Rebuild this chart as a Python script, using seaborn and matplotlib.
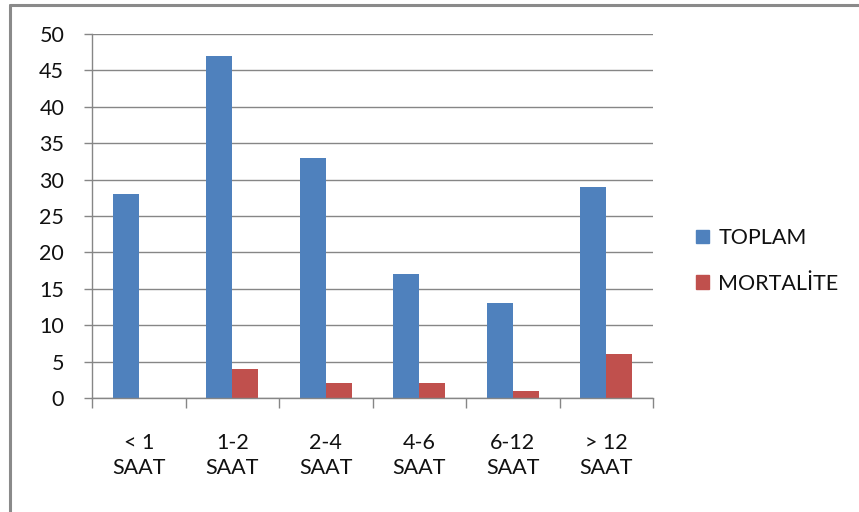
import matplotlib
matplotlib.use("Agg")
import matplotlib.pyplot as plt
import seaborn as sns
import pandas as pd
from matplotlib.patches import Rectangle
from matplotlib.lines import Line2D

# Data
categories = ["< 1\nSAAT", "1-2\nSAAT", "2-4\nSAAT", "4-6\nSAAT", "6-12\nSAAT", "> 12\nSAAT"]
toplam = [28, 47, 33, 17, 13, 29]
mortalite = [0, 4, 2, 2, 1, 6]
series_names = ["TOPLAM", "MORTALİTE"]
y_ticks = [0, 5, 10, 15, 20, 25, 30, 35, 40, 45, 50]

df = pd.DataFrame({
    "kategori": categories * 2,
    "seri": [series_names[0]] * len(categories) + [series_names[1]] * len(categories),
    "deger": toplam + mortalite,
})

sns.set_theme(style="white")
plt.rcParams["font.family"] = ["Lato", "DejaVu Sans"]

W, H = 859, 512
fig = plt.figure(figsize=(W / 100, H / 100), dpi=100)
fig.patch.set_facecolor("white")

# Outer chart frame (top and left edges visible)
fig.add_artist(Line2D([10 / W, 10 / W], [0, 1 - 5 / H], color="#8a8a8a", lw=2.2,
                      transform=fig.transFigure))
fig.add_artist(Line2D([10 / W, 1], [1 - 5 / H, 1 - 5 / H], color="#8a8a8a", lw=2.2,
                      transform=fig.transFigure))

x0, x1 = 92, 653
y0, y1 = 398, 34
ax = fig.add_axes([x0 / W, 1 - y0 / H, (x1 - x0) / W, (y0 - y1) / H])

palette = {series_names[0]: "#4F81BD", series_names[1]: "#C0504D"}
sns.barplot(data=df, x="kategori", y="deger", hue="seri", palette=palette,
            width=0.56, gap=0, dodge=True, saturation=1, ax=ax, legend=False,
            edgecolor="none", linewidth=0)

ax.set_ylim(0, 50)
ax.set_xlim(-0.5, len(categories) - 0.5)
ax.set_yticks(y_ticks)
ax.set_xlabel("")
ax.set_ylabel("")

grid_c = "#868686"
for v in y_ticks:
    ax.axhline(v, color=grid_c, lw=1.0, zorder=0)
ax.set_axisbelow(True)

for s in ["top", "right"]:
    ax.spines[s].set_visible(False)
ax.spines["left"].set_color(grid_c)
ax.spines["bottom"].set_color(grid_c)
ax.spines["left"].set_linewidth(1.0)
ax.spines["bottom"].set_linewidth(1.0)

fs = 15.5
ax.tick_params(axis="y", which="both", left=True, length=6, width=1.0, color=grid_c,
               labelsize=fs, labelcolor="#111111", pad=14)
# x tick marks sit at category boundaries; labels at category centres
ax.set_xticks([i for i in range(len(categories))])
ax.set_xticklabels(categories, fontsize=fs, color="#111111", linespacing=1.3)
ax.tick_params(axis="x", which="major", bottom=False, pad=19)
ax.set_xticks([i - 0.5 for i in range(len(categories) + 1)], minor=True)
ax.tick_params(axis="x", which="minor", bottom=True, length=7, width=1.0, color=grid_c)

# Legend
handles = [Rectangle((0, 0), 1, 1, color=palette[n]) for n in series_names]
fig.legend(handles, series_names, loc="center left",
           bbox_to_anchor=(687 / W, 1 - 261 / H), frameon=False, fontsize=fs,
           handlelength=0.6, handleheight=0.6, handletextpad=0.45,
           labelspacing=1.2, borderaxespad=0, labelcolor="#111111")

fig.savefig("out.png", dpi=100, facecolor="white")
